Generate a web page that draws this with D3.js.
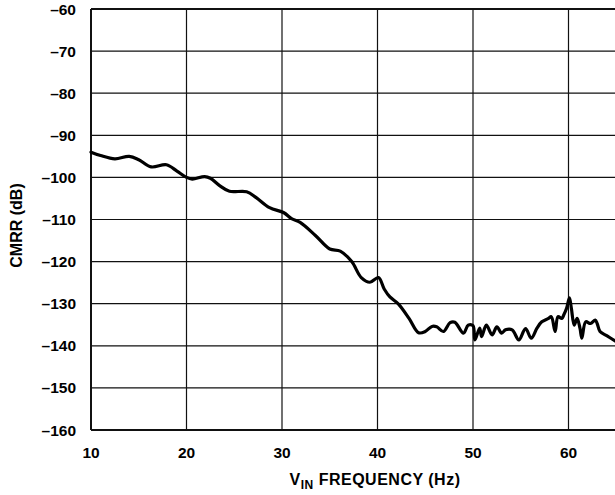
<!DOCTYPE html>
<html>
<head>
<meta charset="utf-8">
<script src="https://cdn.jsdelivr.net/npm/d3@7"></script>
<style>
  html, body { margin: 0; padding: 0; background: #fff; }
  svg { display: block; }
  text { font-family: "Liberation Sans", Arial, sans-serif; font-weight: bold; fill: #000; }
</style>
</head>
<body>
<svg id="chart" width="615" height="495"></svg>
<script>
// CMRR versus input frequency
const freqHz = [10, 11, 12.5, 14, 15, 16.3, 17.9, 19, 20, 20.6, 21.9, 22.5, 23.5, 24.5, 26.3, 27.3,
  28.7, 30.2, 31.0, 31.9, 33.5, 35, 36.1, 37.3, 38.3, 39.2, 40.1, 40.7, 41.3, 42.2, 43.3, 44.3,
  45.0, 45.7, 46.2, 46.9, 47.6, 48.1, 49.0, 49.5, 50.0, 50.2, 50.7, 50.9, 51.4, 52.0, 52.5, 53.0,
  53.4, 54.1, 54.8, 55.5, 56.1, 56.7, 57.2, 57.9, 58.2, 58.6, 58.9, 59.3, 59.5, 59.8, 60.1, 60.3,
  60.6, 60.9, 61.2, 61.4, 61.8, 62.3, 62.8, 63.0, 63.3, 64, 65];
const cmrrDb = [-94, -94.8, -95.6, -95.0, -95.8, -97.5, -97.0, -98.5, -100, -100.4, -99.8, -100.2, -102, -103.3, -103.4, -104.8,
  -107.2, -108.4, -109.8, -110.7, -113.8, -117, -117.5, -120, -123.8, -124.9, -123.8, -126.5, -128.4, -130.1, -133.5, -136.9,
  -136.6, -135.4, -135.5, -136.6, -134.5, -134.4, -137, -135.1, -135.2, -138.6, -135.8, -137.8, -135.1, -137.4, -135.5, -137,
  -136.2, -136.2, -138.6, -135.9, -138.2, -135.8, -134.3, -133.5, -133.1, -136.6, -133.1, -133.5, -132.7, -131.1, -128.6, -131.1,
  -135.1, -133.5, -135.8, -138.2, -134.3, -134.7, -133.9, -134.7, -136.6, -137.6, -139];

const xTicks = [10, 20, 30, 40, 50, 60];
const yTicks = [-60, -70, -80, -90, -100, -110, -120, -130, -140, -150, -160];
const xTitleMain = "V";
const xTitleSub = "IN";
const xTitleRest = " FREQUENCY (Hz)";
const yTitle = "CMRR (dB)";

const svg = d3.select("#chart");
const plotL = 91, plotT = 9, plotB = 430, plotR = 615;
const x = d3.scaleLinear().domain([10, 70]).range([plotL, plotL + 60 * 9.55]);
const y = d3.scaleLinear().domain([-160, -60]).range([plotB, plotT]);

const grid = svg.append("g");
// horizontal grid
grid.selectAll("line.h").data(yTicks).join("line")
  .attr("x1", plotL).attr("x2", plotR)
  .attr("y1", d => y(d)).attr("y2", d => y(d))
  .attr("stroke", "#111").attr("stroke-width", d => (d === -60 || d === -160) ? 2 : 1.2);
// vertical grid
grid.selectAll("line.v").data(xTicks).join("line")
  .attr("x1", d => x(d)).attr("x2", d => x(d))
  .attr("y1", plotT).attr("y2", plotB)
  .attr("stroke", "#111").attr("stroke-width", d => d === 10 ? 2 : 1.2);

// tick labels
svg.append("g").selectAll("text").data(yTicks).join("text")
  .attr("x", 76).attr("y", d => y(d)).attr("dy", "0.36em")
  .attr("text-anchor", "end").style("font-size", "15.5px")
  .text(d => "\u2013" + Math.abs(d));
svg.append("g").selectAll("text").data(xTicks).join("text")
  .attr("x", d => x(d)).attr("y", 452).attr("dy", "0.36em")
  .attr("text-anchor", "middle").style("font-size", "15.5px")
  .text(d => d);

// axis titles
const xt = svg.append("text").attr("x", 375).attr("y", 485)
  .attr("text-anchor", "middle").style("font-size", "16px").style("letter-spacing", "0.5px");
xt.append("tspan").text(xTitleMain);
xt.append("tspan").attr("dy", 3.5).style("font-size", "12px").text(xTitleSub);
xt.append("tspan").attr("dy", -3.5).text(xTitleRest);

svg.append("text")
  .attr("transform", `translate(22, ${(plotT + plotB) / 2 + 6}) rotate(-90)`)
  .attr("text-anchor", "middle").style("font-size", "16px")
  .text(yTitle);

// data line
const pts = freqHz.map((f, i) => [f, cmrrDb[i]]);
svg.append("path").datum(pts)
  .attr("fill", "none").attr("stroke", "#000").attr("stroke-width", 3.2)
  .attr("stroke-linejoin", "round").attr("stroke-linecap", "round")
  .attr("d", d3.line().x(d => x(d[0])).y(d => y(d[1])).curve(d3.curveCatmullRom.alpha(0.5)));
</script>
</body>
</html>
